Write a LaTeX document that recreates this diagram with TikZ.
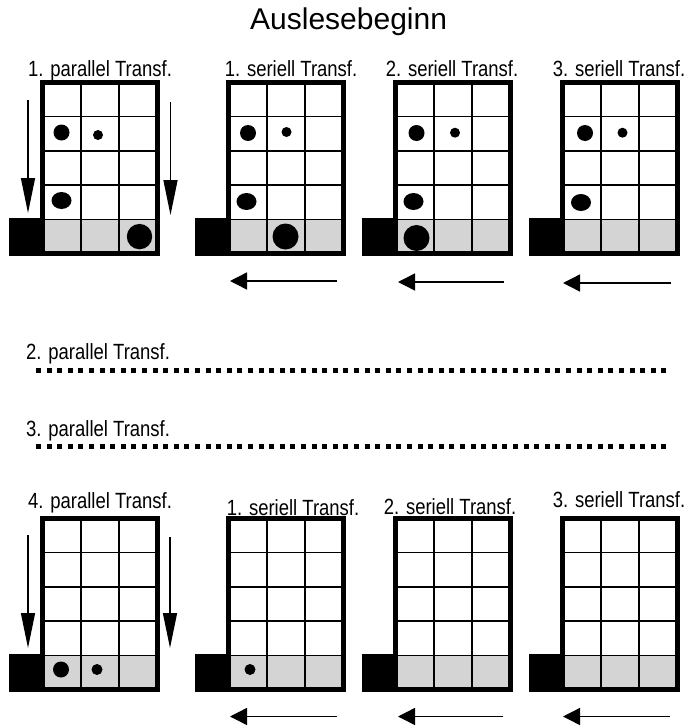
\documentclass[tikz,border=0pt]{standalone}
\usepackage{fontspec}
\setmainfont{Liberation Sans}
\usetikzlibrary{arrows.meta}
\definecolor{stip}{gray}{0.83}
\newcommand{\lbl}[1]{\scalebox{0.84}[1]{\fontsize{22}{22}\selectfont #1}}
\newcommand{\ccdgrid}[2]{%
\begin{scope}[shift={(#1,#2)}]
 \fill[stip] (2.25,139.45) rectangle (117.75,173.75);
 \draw[cellline] (40.75,2.25) -- (40.75,173.75) (79.25,2.25) -- (79.25,173.75);
 \foreach \r in {36.55,70.85,105.15,139.45} \draw[cellline] (2.25,\r) -- (117.75,\r);
 \draw[borderline] (2.25,2.25) rectangle (117.75,173.75);
 \fill (-31,138) rectangle (0,176);
\end{scope}}
\begin{document}
\begin{tikzpicture}[x=1pt,y=-1pt,
  borderline/.style={line width=4.8pt},
  cellline/.style={line width=1.8pt},
  varrow/.style={line width=1.4pt,-{Triangle[length=35pt,width=14pt]}},
  harrow/.style={line width=1.4pt,-{Triangle[length=17pt,width=17pt]}},
  lab/.style={inner sep=0pt,anchor=base},
  dotline/.style={line width=5pt,dash pattern=on 5pt off 5.6pt}]
\useasboundingbox (0,0) rectangle (687,728);
\node[font=\fontsize{30}{30}\selectfont,anchor=base west,inner sep=0pt] (title) at (250,29) {Auslesebeginn};
% top row labels
\node[lab] (l1) at (100,76) {\lbl{1. parallel Transf.}};
\node[lab] (l2) at (291,76) {\lbl{1. seriell Transf.}};
\node[lab] (l3) at (452,76) {\lbl{2. seriell Transf.}};
\node[lab] (l4) at (619,76) {\lbl{3. seriell Transf.}};
% top grids
\ccdgrid{40}{80}
\ccdgrid{226}{80}
\ccdgrid{393}{80}
\ccdgrid{560}{80}
\begin{scope}[shift={(40,80)}]
 \fill (21.5,52.5) circle[radius=8pt];
 \fill (58,55) circle[radius=5pt];
 \fill (21.5,120.5) ellipse[x radius=10pt,y radius=8.5pt];
 \fill (99.5,156.6) circle[radius=12.7pt];
\end{scope}
\begin{scope}[shift={(226,80)}]
 \fill (22,53) circle[radius=8pt];
 \fill (60.5,52) circle[radius=5pt];
 \fill (20.5,121.5) ellipse[x radius=10pt,y radius=8.5pt];
 \fill (59.5,156.5) circle[radius=13pt];
\end{scope}
\begin{scope}[shift={(393,80)}]
 \fill (23.5,53) circle[radius=8pt];
 \fill (62,52.7) circle[radius=5pt];
 \fill (20.5,121.5) ellipse[x radius=10pt,y radius=8.5pt];
 \fill (23.5,158) circle[radius=13pt];
\end{scope}
\begin{scope}[shift={(560,80)}]
 \fill (25,53) circle[radius=8pt];
 \fill (62.5,52.7) circle[radius=5pt];
 \fill (21,122.5) ellipse[x radius=10pt,y radius=8.5pt];
\end{scope}
% arrows top
\coordinate (a1s) at (28,100); \coordinate (a1e) at (28,213);
\coordinate (a2s) at (170.5,102); \coordinate (a2e) at (170.5,215);
\draw[varrow] (a1s) -- (a1e);
\draw[varrow] (a2s) -- (a2e);
\coordinate (h1s) at (337,281); \coordinate (h1e) at (230,281);
\coordinate (h2s) at (504,282); \coordinate (h2e) at (398,282);
\coordinate (h3s) at (671,283); \coordinate (h3e) at (563,283);
\draw[harrow] (h1s) -- (h1e);
\draw[harrow] (h2s) -- (h2e);
\draw[harrow] (h3s) -- (h3e);
% middle
\node[lab,anchor=base west] (m1) at (26,359) {\lbl{2. parallel Transf.}};
\coordinate (d1s) at (36,370); \coordinate (d1e) at (669,370);
\draw[dotline] (d1s) -- (d1e);
\node[lab,anchor=base west] (m2) at (26,436) {\lbl{3. parallel Transf.}};
\coordinate (d2s) at (36,446); \coordinate (d2e) at (669,446);
\draw[dotline] (d2s) -- (d2e);
% bottom labels
\node[lab] (b1) at (100,508) {\lbl{4. parallel Transf.}};
\node[lab] (b2) at (293,515) {\lbl{1. seriell Transf.}};
\node[lab] (b3) at (450,514) {\lbl{2. seriell Transf.}};
\node[lab] (b4) at (619,507) {\lbl{3. seriell Transf.}};
\ccdgrid{40}{516}
\ccdgrid{226}{516}
\ccdgrid{393}{516}
\ccdgrid{560}{516}
\begin{scope}[shift={(40,516)}]
 \fill (21,153.5) circle[radius=8pt];
 \fill (57,153.5) circle[radius=5.5pt];
\end{scope}
\begin{scope}[shift={(226,516)}]
 \fill (24,153.5) circle[radius=5.5pt];
\end{scope}
\coordinate (a3s) at (28,535); \coordinate (a3e) at (28,648);
\coordinate (a4s) at (170,537); \coordinate (a4e) at (170,648);
\draw[varrow] (a3s) -- (a3e);
\draw[varrow] (a4s) -- (a4e);
\coordinate (h4s) at (337,716.5); \coordinate (h4e) at (230,716.5);
\coordinate (h5s) at (503,716.5); \coordinate (h5e) at (398,716.5);
\coordinate (h6s) at (670,716.5); \coordinate (h6e) at (563,716.5);
\draw[harrow] (h4s) -- (h4e);
\draw[harrow] (h5s) -- (h5e);
\draw[harrow] (h6s) -- (h6e);
\end{tikzpicture}
\end{document}
